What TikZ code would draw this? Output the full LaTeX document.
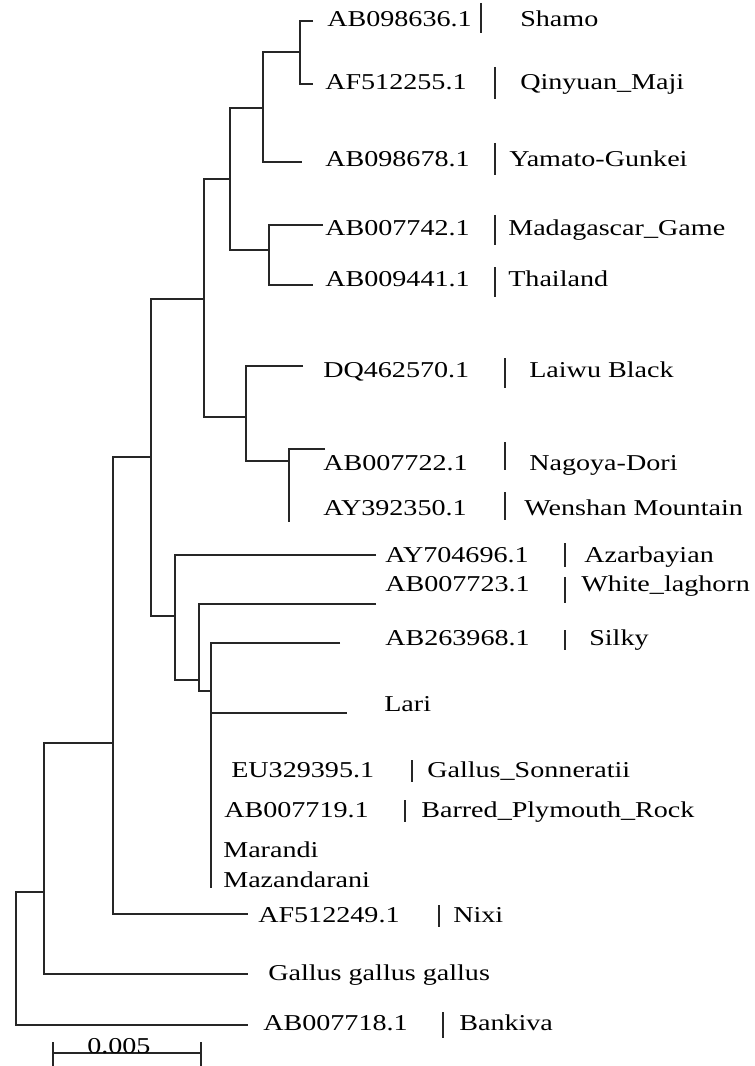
\documentclass[tikz,border=0pt]{standalone}
\usepackage{fontspec}
\setmainfont{Liberation Serif}[FakeStretch=1.24]
\begin{document}
\begin{tikzpicture}[x=0.75pt,y=-0.75pt]
\tikzset{taxon/.style={anchor=base west, inner sep=0pt, font=\fontsize{17}{19}\selectfont},
  branche/.style={draw=black!85, line width=0.8pt}}
\useasboundingbox (0,0) rectangle (754,1066);
\coordinate (fShamo) at (313,21);
\coordinate (fQinyuan) at (313,84);
\coordinate (fYamato) at (302,162);
\coordinate (fMadagascar) at (323,225);
\coordinate (fThailand) at (313,285);
\coordinate (fLaiwu) at (303,366);
\coordinate (fNagoya) at (325,449);
\coordinate (fWenshan) at (289,522);
\coordinate (fAzar) at (376,555);
\coordinate (fWhite) at (376,604);
\coordinate (fSilky) at (340,643);
\coordinate (fLari) at (347,713);
\coordinate (fMaza) at (211,888);
\coordinate (fNixi) at (248,914);
\coordinate (fGallus) at (248,974);
\coordinate (fBankiva) at (248,1025);
\coordinate (n1) at (300,52);
\coordinate (n2) at (263,108);
\coordinate (n3) at (269,250);
\coordinate (n4) at (230,179);
\coordinate (n5) at (289,461);
\coordinate (n6) at (246,417);
\coordinate (n7) at (204,299);
\coordinate (n8) at (211,691);
\coordinate (n9) at (199,680);
\coordinate (n10) at (175,616);
\coordinate (n11) at (151,457);
\coordinate (n12) at (113,743);
\coordinate (n13) at (44,892);
\coordinate (n14) at (16,960);
\draw[branche] (fShamo) -| (n1) |- (fQinyuan);
\draw[branche] (n1) -| (n2) |- (fYamato);
\draw[branche] (fMadagascar) -| (n3) |- (fThailand);
\draw[branche] (n2) -| (n4) |- (n3);
\draw[branche] (fNagoya) -| (n5) -- (fWenshan);
\draw[branche] (fLaiwu) -| (n6) |- (n5);
\draw[branche] (n4) -| (n7) |- (n6);
\draw[branche] (fSilky) -| (n8) |- (fLari);
\draw[branche] (n8) -- (fMaza);
\draw[branche] (fWhite) -| (n9) |- (n8);
\draw[branche] (fAzar) -| (n10) |- (n9);
\draw[branche] (n7) -| (n11) |- (n10);
\draw[branche] (n11) -| (n12) |- (fNixi);
\draw[branche] (n12) -| (n13) |- (fGallus);
\draw[branche] (n13) -| (n14) |- (fBankiva);
\node[taxon] (acc1) at (327,27) {AB098636.1};
\node[taxon] (nom1) at (520,27) {Shamo};
\node[taxon] (acc2) at (325,90) {AF512255.1};
\node[taxon] (nom2) at (520,90) {Qinyuan\_Maji};
\node[taxon] (acc3) at (325,167) {AB098678.1};
\node[taxon] (nom3) at (509,167) {Yamato-Gunkei};
\node[taxon] (acc4) at (325,235) {AB007742.1};
\node[taxon] (nom4) at (508,235) {Madagascar\_Game};
\node[taxon] (acc5) at (325,286) {AB009441.1};
\node[taxon] (nom5) at (508,286) {Thailand};
\node[taxon] (acc6) at (323,377) {DQ462570.1};
\node[taxon] (nom6) at (529,377) {Laiwu Black};
\node[taxon] (acc7) at (323,470) {AB007722.1};
\node[taxon] (nom7) at (529,470) {Nagoya-Dori};
\node[taxon] (acc8) at (323,515) {AY392350.1};
\node[taxon] (nom8) at (524,515) {Wenshan Mountain};
\node[taxon] (acc9) at (385,562) {AY704696.1};
\node[taxon] (nom9) at (584,562) {Azarbayian};
\node[taxon] (acc10) at (385,591) {AB007723.1};
\node[taxon] (nom10) at (581,591) {White\_laghorn};
\node[taxon] (acc11) at (385,645) {AB263968.1};
\node[taxon] (nom11) at (589,645) {Silky};
\node[taxon] (nom12) at (384,711) {Lari};
\node[taxon] (acc13) at (231,777) {EU329395.1};
\node[taxon] (nom13) at (427,777) {Gallus\_Sonneratii};
\node[taxon] (acc14) at (224,817) {AB007719.1};
\node[taxon] (nom14) at (421,817) {Barred\_Plymouth\_Rock};
\node[taxon] (nom15) at (223,857) {Marandi};
\node[taxon] (nom16) at (223,887) {Mazandarani};
\node[taxon] (acc17) at (258,922) {AF512249.1};
\node[taxon] (nom17) at (453,922) {Nixi};
\node[taxon] (nom18) at (268,980) {Gallus gallus gallus};
\node[taxon] (acc19) at (263,1030) {AB007718.1};
\node[taxon] (nom19) at (459,1030) {Bankiva};
\foreach \x/\ya/\yb in {481/3/33, 495/67/99, 495/143/175, 495/215/245, 495/267/297,
  505/358/388, 505/442/470, 505/492/520, 565/543/567, 565/577/603, 565/630/650,
  412/760/782, 405/800/822, 439/905/927, 443/1012/1038}
  \draw[branche] (\x,\ya) -- (\x,\yb);
\coordinate (e1) at (53,1053);
\coordinate (e2) at (201,1053);
\draw[branche] (e1) -- (e2);
\draw[branche] (53,1042) -- (53,1066) (201,1042) -- (201,1066);
\node[taxon] (echelle) at (87,1053) {0.005};
\end{tikzpicture}
\end{document}
